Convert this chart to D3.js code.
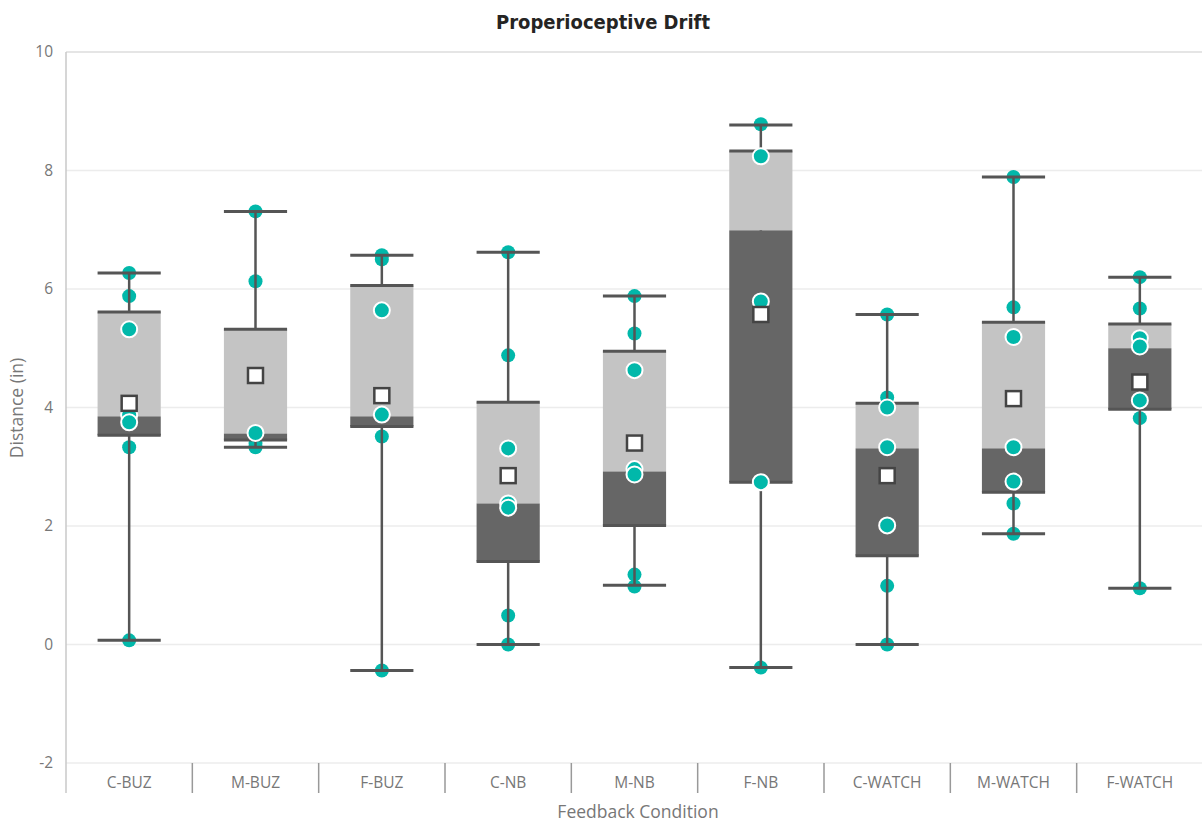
<!DOCTYPE html>
<html>
<head>
<meta charset="utf-8">
<script src="https://cdn.jsdelivr.net/npm/d3@7"></script>
<style>
  body { margin: 0; background: #fff; }
  text { font-family: "Open Sans", "Noto Sans", sans-serif; }
</style>
</head>
<body>
<svg id="chart" width="1202" height="822"></svg>
<script>
// feedback conditions
var conditions = ["C-BUZ", "M-BUZ", "F-BUZ", "C-NB", "M-NB", "F-NB", "C-WATCH", "M-WATCH", "F-WATCH"]

// box stats
var whiskerLow  = [0.07, 3.33, -0.44, 0.00, 1.00, -0.39, 0.00, 1.87, 0.95]
var q1          = [3.53, 3.45, 3.68, 1.40, 2.01, 2.74, 1.50, 2.57, 3.97]
var median      = [3.85, 3.56, 3.85, 2.38, 2.92, 6.99, 3.31, 3.31, 5.00]
var q3          = [5.61, 5.32, 6.06, 4.09, 4.95, 8.33, 4.07, 5.44, 5.41]
var whiskerHigh = [6.27, 7.31, 6.57, 6.62, 5.88, 8.77, 5.57, 7.89, 6.20]
var means       = [4.07, 4.54, 4.20, 2.85, 3.40, 5.57, 2.85, 4.15, 4.43]

// individual observations
var points = [
  [6.27, 5.88, 5.32, 3.87, 3.75, 3.33, 0.07],
  [7.31, 6.13, 3.57, 3.40, 3.33],
  [6.57, 6.50, 5.64, 3.88, 3.51, -0.44],
  [6.62, 4.88, 3.31, 2.38, 2.31, 0.49, 0.00],
  [5.88, 5.25, 4.63, 2.96, 2.87, 1.18, 0.98],
  [8.78, 8.24, 5.79, 2.74, -0.39],
  [5.57, 4.17, 4.00, 3.33, 2.01, 0.99, 0.00],
  [7.89, 5.69, 5.19, 3.33, 2.75, 2.38, 1.87],
  [6.20, 5.67, 5.17, 5.03, 4.12, 3.82, 0.95]
]

var yTicks = [-2, 0, 2, 4, 6, 8, 10]

var teal = "#01B8AA"
var upperFill = "#C4C4C4"
var lowerFill = "#666666"
var lineCol = "#555555"

var svg = d3.select("#chart")
var plotLeft = 66, plotRight = 1203, plotTop = 52, plotBottom = 763

var x = d3.scaleBand().domain(conditions).range([plotLeft, plotRight]).padding(0)
var y = d3.scaleLinear().domain([-2, 10]).range([plotBottom, plotTop])
var boxW = x.bandwidth() * 0.5

// title
svg.append("text")
  .attr("x", 603).attr("y", 29)
  .attr("text-anchor", "middle")
  .style("font-family", "'DejaVu Sans Condensed', 'DejaVu Sans', sans-serif")
  .style("font-stretch", "condensed")
  .style("font-weight", "bold")
  .style("font-size", "20px")
  .style("fill", "#252423")
  .text("Properioceptive Drift")

// gridlines
svg.append("g").selectAll("line")
  .data(yTicks).enter().append("line")
  .attr("x1", plotLeft).attr("x2", plotRight)
  .attr("y1", d => y(d)).attr("y2", d => y(d))
  .style("stroke", d => d == 10 ? "#ddd" : "#ececec")
  .style("stroke-width", 1.5)

// y axis
var yAxis = svg.append("g")
  .attr("transform", "translate(" + plotLeft + ",0)")
  .call(d3.axisLeft(y).tickValues(yTicks).tickSize(0).tickPadding(13).tickFormat(d => String(d)))
yAxis.select(".domain").remove()
yAxis.selectAll("text").style("font-size", "15.5px").style("fill", "#777")
svg.append("line")
  .attr("x1", plotLeft).attr("x2", plotLeft).attr("y1", plotTop).attr("y2", 793)
  .style("stroke", "#c8c8c8").style("stroke-width", 1.5)

svg.append("text")
  .attr("transform", "translate(23," + 408 + ") rotate(-90)")
  .attr("text-anchor", "middle")
  .style("font-size", "17.5px").style("fill", "#777")
  .text("Distance (in)")

// x axis: category separators and labels
svg.append("g").selectAll("line")
  .data(conditions.slice(1)).enter().append("line")
  .attr("x1", d => x(d)).attr("x2", d => x(d))
  .attr("y1", plotBottom).attr("y2", 793)
  .style("stroke", "#999").style("stroke-width", 1.5)

svg.append("g").selectAll("text")
  .data(conditions).enter().append("text")
  .attr("x", d => x(d) + x.bandwidth() / 2)
  .attr("y", 788)
  .attr("text-anchor", "middle")
  .style("font-size", "15.5px").style("fill", "#777")
  .text(d => d)

svg.append("text")
  .attr("x", 638).attr("y", 818)
  .attr("text-anchor", "middle")
  .style("font-size", "17.5px").style("fill", "#777")
  .text("Feedback Condition")

var boxes = svg.append("g").selectAll("g")
  .data(conditions).enter().append("g")

// points outside the box go under the whiskers
boxes.each(function (c, i) {
  var cx = x(c) + x.bandwidth() / 2
  var g = d3.select(this)
  g.selectAll("circle.out")
    .data(points[i].filter(v => v < q1[i] || v > q3[i]))
    .enter().append("circle")
    .attr("class", "out")
    .attr("cx", cx).attr("cy", v => y(v)).attr("r", 7)
    .style("fill", teal)

  // whisker stem
  g.append("line")
    .attr("x1", cx).attr("x2", cx)
    .attr("y1", y(whiskerLow[i])).attr("y2", y(whiskerHigh[i]))
    .style("stroke", lineCol).style("stroke-width", 2.5)
  // caps
  ;[whiskerLow[i], whiskerHigh[i]].forEach(function (v) {
    g.append("line")
      .attr("x1", cx - boxW / 2).attr("x2", cx + boxW / 2)
      .attr("y1", y(v)).attr("y2", y(v))
      .style("stroke", lineCol).style("stroke-width", 3)
  })
  // upper and lower halves
  g.append("rect")
    .attr("x", cx - boxW / 2).attr("width", boxW)
    .attr("y", y(q3[i])).attr("height", y(median[i]) - y(q3[i]))
    .style("fill", upperFill)
  g.append("rect")
    .attr("x", cx - boxW / 2).attr("width", boxW)
    .attr("y", y(median[i])).attr("height", y(q1[i]) - y(median[i]))
    .style("fill", lowerFill)
  ;[q1[i], q3[i]].forEach(function (v) {
    g.append("line")
      .attr("x1", cx - boxW / 2).attr("x2", cx + boxW / 2)
      .attr("y1", y(v)).attr("y2", y(v))
      .style("stroke", lineCol).style("stroke-width", 3)
  })

  // points inside the box get a white ring
  g.selectAll("circle.in")
    .data(points[i].filter(v => v >= q1[i] && v <= q3[i]))
    .enter().append("circle")
    .attr("class", "in")
    .attr("cx", cx).attr("cy", v => y(v)).attr("r", 8)
    .style("fill", teal).style("stroke", "#fff").style("stroke-width", 2)

  // mean marker
  g.append("rect")
    .attr("x", cx - 7.5).attr("y", y(means[i]) - 7.5)
    .attr("width", 15).attr("height", 15)
    .style("fill", "#fff").style("stroke", "#444").style("stroke-width", 2.5)
})
</script>
</body>
</html>
